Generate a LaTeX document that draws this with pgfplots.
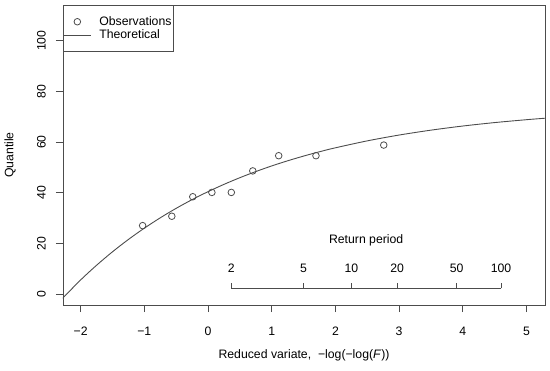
\documentclass[border=0pt]{standalone}
\usepackage{fontspec}
\setmainfont{Liberation Sans}
\usepackage{pgfplots}
\pgfplotsset{compat=1.18}
\definecolor{ink}{gray}{0.3}
\begin{document}
\fontsize{12.3}{15}\selectfont
\begin{tikzpicture}[font=\fontsize{12.3}{15}\selectfont]
\begin{axis}[
  scale only axis, width=482bp, height=300bp,
  xmin=-2.276, xmax=5.29, ymin=-4.34, ymax=114.1,
  axis line style={ink, line width=0.8pt},
  tick style={ink, line width=0.8pt},
  tick align=outside, major tick length=7bp,
  xtick={-2,-1,0,1,2,3,4,5}, xticklabels={−2,−1,0,1,2,3,4,5},
  ytick={0,20,40,60,80,100},
  yticklabels={0,20,40,60,80,100},
  xtick pos=bottom, ytick pos=left,
  yticklabel style={rotate=90, anchor=south, inner sep=0pt, yshift=10bp},
  xticklabel style={anchor=north, yshift=-11bp},
  xlabel={Reduced variate,\ \ −log(−log(\textit{F}))},
  ylabel={Quantile},
  xlabel style={at={(axis description cs:0.5,-0.1667)}, anchor=center},
  ylabel style={at={(axis description cs:-0.11,0.5)}, anchor=center},
  clip=true,
  legend style={at={(0,1)}, anchor=north west, draw=ink, line width=0.8pt,
    inner xsep=0pt, inner ysep=9bp, row sep=-1bp,
    /tikz/every odd column/.append style={column sep=6bp}},
  legend cell align=left,
  legend image code/.code={\draw[mark repeat=2,mark phase=2,#1] plot coordinates {(0bp,0bp)(13.5bp,0bp)(27bp,0bp)};},
]
\addplot[only marks, mark=o, mark size=3.3bp, draw=ink, line width=0.8pt] coordinates {
(-1.026,27.0) (-0.568,30.7) (-0.239,38.4) (0.061,40.1) (0.366,40.1)
(0.703,48.6) (1.110,54.6) (1.695,54.6) (2.759,58.8)};
\addlegendentry{Observations}
\addplot[ink, line width=0.9pt, smooth] coordinates {
(-2.3,-2.14) (-2.0,5.53) (-1.75,11.33) (-1.5,16.65) (-1.25,21.52) (-1.0,25.98)
(-0.75,30.07) (-0.5,33.82) (-0.25,37.26) (0,40.40) (0.25,43.28) (0.5,45.92)
(0.75,48.34) (1.0,50.56) (1.25,52.59) (1.5,54.45) (1.75,56.16) (2.0,57.72)
(2.5,60.46) (3.0,62.76) (3.5,64.69) (4.0,66.32) (4.5,67.68) (5.0,68.82) (5.3,69.42)};
\addlegendentry{Theoretical}
% return period axis
\addplot[ink, line width=0.8pt, forget plot] coordinates {(0.3665,2.25) (4.6001,2.25)};
\addplot[ink, line width=0.8pt, forget plot] coordinates {(0.3665,2.25) (0.3665,4.3)};
\addplot[ink, line width=0.8pt, forget plot] coordinates {(1.4999,2.25) (1.4999,4.3)};
\addplot[ink, line width=0.8pt, forget plot] coordinates {(2.2504,2.25) (2.2504,4.3)};
\addplot[ink, line width=0.8pt, forget plot] coordinates {(2.9702,2.25) (2.9702,4.3)};
\addplot[ink, line width=0.8pt, forget plot] coordinates {(3.9019,2.25) (3.9019,4.3)};
\addplot[ink, line width=0.8pt, forget plot] coordinates {(4.6001,2.25) (4.6001,4.3)};
\node at (axis cs:0.3665,10.1) {2};
\node at (axis cs:1.4999,10.1) {5};
\node at (axis cs:2.2504,10.1) {10};
\node at (axis cs:2.9702,10.1) {20};
\node at (axis cs:3.9019,10.1) {50};
\node at (axis cs:4.6001,10.1) {100};
\node at (axis cs:2.4833,21.3) {Return period};
\end{axis}
\path (current axis.south west) ++(-63bp,-66bp) rectangle ++(550bp,371bp);
\end{tikzpicture}
\end{document}
